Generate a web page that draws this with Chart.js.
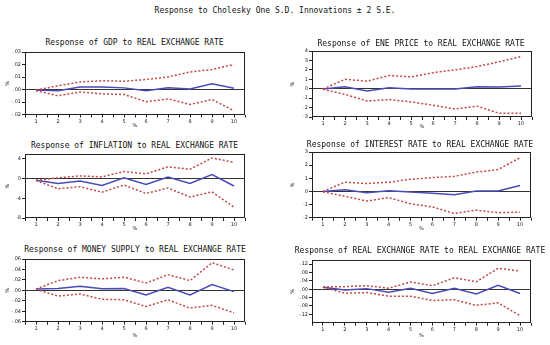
<!DOCTYPE html>
<html><head><meta charset="utf-8">
<script src="https://cdn.jsdelivr.net/npm/chart.js@4.4.1/dist/chart.umd.min.js"></script>
<style>
html,body{margin:0;padding:0;background:#fff;}
#wrap{position:relative;width:550px;height:345px;overflow:hidden;background:#fff;}
.ttl{position:absolute;width:400px;text-align:center;font:8px/12px "DejaVu Sans Mono",monospace;color:#111;white-space:pre;}
canvas{position:absolute;}
</style></head><body>
<div id="wrap"></div>
<script>
// ---------- DATA ----------
const periods = [1,2,3,4,5,6,7,8,9,10];

const mainTitle = "Response to Cholesky One S.D. Innovations \u00B1 2 S.E.";
const panelTitles = [
  "Response of GDP to REAL EXCHANGE RATE",
  "Response of ENE PRICE to REAL EXCHANGE RATE",
  "Response of INFLATION to REAL EXCHANGE RATE",
  "Response of INTEREST RATE to REAL EXCHANGE RATE",
  "Response of MONEY SUPPLY to REAL EXCHANGE RATE",
  "Response of REAL EXCHANGE RATE to REAL EXCHANGE RATE"
];

const gdpResp  = [-0.0005,-0.001,0.002,0.002,0.0013,-0.001,0.0013,0.0005,0.0045,0.001];
const gdpUpper = [-0.0005,0.003,0.006,0.007,0.0066,0.008,0.010,0.014,0.016,0.020];
const gdpLower = [-0.001,-0.005,-0.002,-0.0035,-0.004,-0.0097,-0.0075,-0.012,-0.008,-0.017];
const gdpTicks = [-0.02,-0.01,0.00,0.01,0.02,0.03];

const eneResp  = [-0.03,0.2,-0.25,0.1,-0.03,-0.03,-0.03,0.2,0.17,0.3];
const eneUpper = [-0.03,1.0,0.8,1.4,1.25,1.7,2.0,2.35,2.85,3.4];
const eneLower = [-0.07,-0.6,-1.3,-1.15,-1.4,-1.75,-2.15,-1.85,-2.6,-2.6];
const eneTicks = [-3,-2,-1,0,1,2,3,4];

const infResp  = [-0.35,-1.0,-0.5,-1.4,0.15,-1.2,0.3,-1.0,0.8,-1.5];
const infUpper = [-0.35,0.15,0.55,0.35,1.45,0.95,2.4,1.9,4.2,3.3];
const infLower = [-0.4,-2.05,-1.65,-2.75,-1.3,-3.0,-1.9,-3.75,-2.7,-5.8];
const infTicks = [-8,-4,0,4];

const intResp  = [0,0.13,-0.1,0.05,-0.05,-0.13,-0.26,0.03,0.03,0.45];
const intUpper = [0,0.7,0.6,0.7,0.92,1.05,1.15,1.47,1.67,2.57];
const intLower = [-0.03,-0.37,-0.73,-0.47,-0.94,-1.18,-1.68,-1.42,-1.62,-1.57];
const intTicks = [-2,-1,0,1,2,3];

const monResp  = [0.0025,0.0037,0.008,0.003,0.0037,-0.0087,0.006,-0.0087,0.011,-0.0025];
const monUpper = [0.0025,0.0186,0.025,0.022,0.025,0.014,0.030,0.0186,0.053,0.039];
const monLower = [0.002,-0.011,-0.007,-0.017,-0.018,-0.031,-0.018,-0.034,-0.0286,-0.043];
const monTicks = [-0.06,-0.04,-0.02,0.00,0.02,0.04,0.06];

const reerResp  = [0.0095,-0.003,0.003,-0.014,0.005,-0.02,0.005,-0.022,0.019,-0.02];
const reerUpper = [0.011,0.0126,0.017,0.005,0.035,0.017,0.055,0.036,0.10,0.087];
const reerLower = [0.0095,-0.019,-0.016,-0.033,-0.033,-0.054,-0.05,-0.077,-0.065,-0.126];
const reerTicks = [-0.12,-0.08,-0.04,0.00,0.04,0.08,0.12];

const axisLabel = "%";

// ---------- PANELS (data refs + axis ranges) ----------
const panels = [
  {title:panelTitles[0], resp:gdpResp, up:gdpUpper, lo:gdpLower, ticks:gdpTicks, min:-0.02, max:0.03, dec:2},
  {title:panelTitles[1], resp:eneResp, up:eneUpper, lo:eneLower, ticks:eneTicks, min:-3, max:4, dec:0},
  {title:panelTitles[2], resp:infResp, up:infUpper, lo:infLower, ticks:infTicks, min:-8, max:5, dec:0},
  {title:panelTitles[3], resp:intResp, up:intUpper, lo:intLower, ticks:intTicks, min:-2, max:3, dec:0},
  {title:panelTitles[4], resp:monResp, up:monUpper, lo:monLower, ticks:monTicks, min:-0.06, max:0.06, dec:2},
  {title:panelTitles[5], resp:reerResp, up:reerUpper, lo:reerLower, ticks:reerTicks, min:-0.16, max:0.14, dec:2}
];

// ---------- LAYOUT ----------
const layouts = [
  {L:0,   fL:25, fR:245, fT:52,  fB:114.5, tX:134.5, tY:43,    xtY:125,   ytX:8},
  {L:275, fL:312,fR:532, fT:51,  fB:116.5, tX:421,   tY:44,    xtY:125.5, ytX:293},
  {L:0,   fL:25, fR:245, fT:154, fB:218,   tX:134.5, tY:145.5, xtY:228,   ytX:8},
  {L:275, fL:312,fR:531, fT:152, fB:217.7, tX:420,   tY:145,   xtY:228,   ytX:293},
  {L:0,   fL:25, fR:245, fT:259.3,fB:321.7,tX:135,   tY:250,   xtY:335,   ytX:8},
  {L:275, fL:312,fR:531, fT:260, fB:322.7, tX:420,   tY:251,   xtY:335,   ytX:293}
];

const INK = '#222';
const BLUE = '#4a4ab8';
const RED = '#c0484a';

function fmt(v, d){
  let s = Math.abs(v).toFixed(d);
  if (d > 0) s = s.replace(/^0/, '');
  return (v < -1e-9 ? '-' : '') + s;
}

const framePlugin = {
  id:'frame',
  afterDatasetsDraw(chart){
    const a = chart.chartArea, c = chart.ctx;
    c.save();
    c.strokeStyle = INK; c.lineWidth = 1;
    c.strokeRect(Math.round(a.left)+0.5, Math.round(a.top)+0.5, Math.round(a.right-a.left)-1, Math.round(a.bottom-a.top)-1);
    c.restore();
  }
};

const wrap = document.getElementById('wrap');
function addTitle(text, cx, cy){
  const d = document.createElement('div');
  d.className = 'ttl';
  d.textContent = text;
  d.style.left = (cx - 200) + 'px';
  d.style.top = (cy - 6) + 'px';
  wrap.appendChild(d);
}
addTitle(mainTitle, 275, 11);

panels.forEach((p, i) => {
  const g = layouts[i];
  addTitle(p.title, g.tX, g.tY);
  const padT = 4;
  const top = g.fT - padT;
  const W = Math.round(g.fR + 2 - g.L);
  const H = Math.round(g.xtY + 3 - top);
  const cv = document.createElement('canvas');
  cv.width = W; cv.height = H;
  cv.style.left = g.L + 'px'; cv.style.top = top + 'px';
  cv.style.width = W + 'px'; cv.style.height = H + 'px';
  wrap.appendChild(cv);
  const toPts = arr => periods.map((x, k) => ({x:x, y:arr[k]}));
  new Chart(cv, {
    type:'line',
    data:{datasets:[
      {data:toPts(p.up), borderColor:RED, borderWidth:1.5, borderDash:[2,2], pointRadius:0, tension:0, fill:false},
      {data:toPts(p.lo), borderColor:RED, borderWidth:1.5, borderDash:[2,2], pointRadius:0, tension:0, fill:false},
      {data:toPts(p.resp), borderColor:BLUE, borderWidth:1.5, pointRadius:0, tension:0, fill:false}
    ]},
    options:{
      responsive:false, animation:false, devicePixelRatio:1,
      layout:{padding:{left:0,right:2,top:padT,bottom:0}},
      plugins:{ legend:{display:false}, tooltip:{enabled:false}, title:{display:false} },
      scales:{
        x:{type:'linear', min:0.5, max:10.5,
          afterBuildTicks(s){
            const t = [];
            for (let k = 0; k < periods.length; k++){ t.push({value:periods[k]-0.5}); t.push({value:periods[k]}); }
            t.push({value:periods[periods.length-1]+0.5});
            s.ticks = t;
          },
          afterFit(s){ s.height = (g.xtY + 3) - g.fB; },
          ticks:{autoSkip:false, maxRotation:0, padding:1, color:INK,
            font:{family:'"DejaVu Sans"', size:5},
            callback:(v)=> periods.includes(v) ? String(v) : ''},
          grid:{drawOnChartArea:false, tickLength:3, tickColor:INK, color:INK},
          border:{display:false},
          title:{display:true, text:axisLabel, color:INK, font:{family:'"DejaVu Sans"', size:5, lineHeight:1}, padding:0}
        },
        y:{type:'linear', min:p.min, max:p.max,
          afterBuildTicks(s){ s.ticks = p.ticks.map(v=>({value:v})); },
          afterFit(s){ s.width = g.fL - g.L; },
          ticks:{autoSkip:false, padding:1, color:INK,
            font:{family:'"DejaVu Sans"', size:5},
            callback:(v)=> fmt(v, p.dec)},
          grid:{drawOnChartArea:true, tickLength:3, tickColor:INK,
            color:(ctx)=> (ctx.tick && Math.abs(ctx.tick.value) < 1e-12) ? '#333' : 'rgba(0,0,0,0)', lineWidth:1},
          border:{display:false},
          title:{display:true, text:axisLabel, color:INK, font:{family:'"DejaVu Sans"', size:5, lineHeight:1},
            padding:{top:(g.ytX - g.L - 2.5), bottom:0}}
        }
      }
    },
    plugins:[framePlugin]
  });
});
</script>
</body></html>
